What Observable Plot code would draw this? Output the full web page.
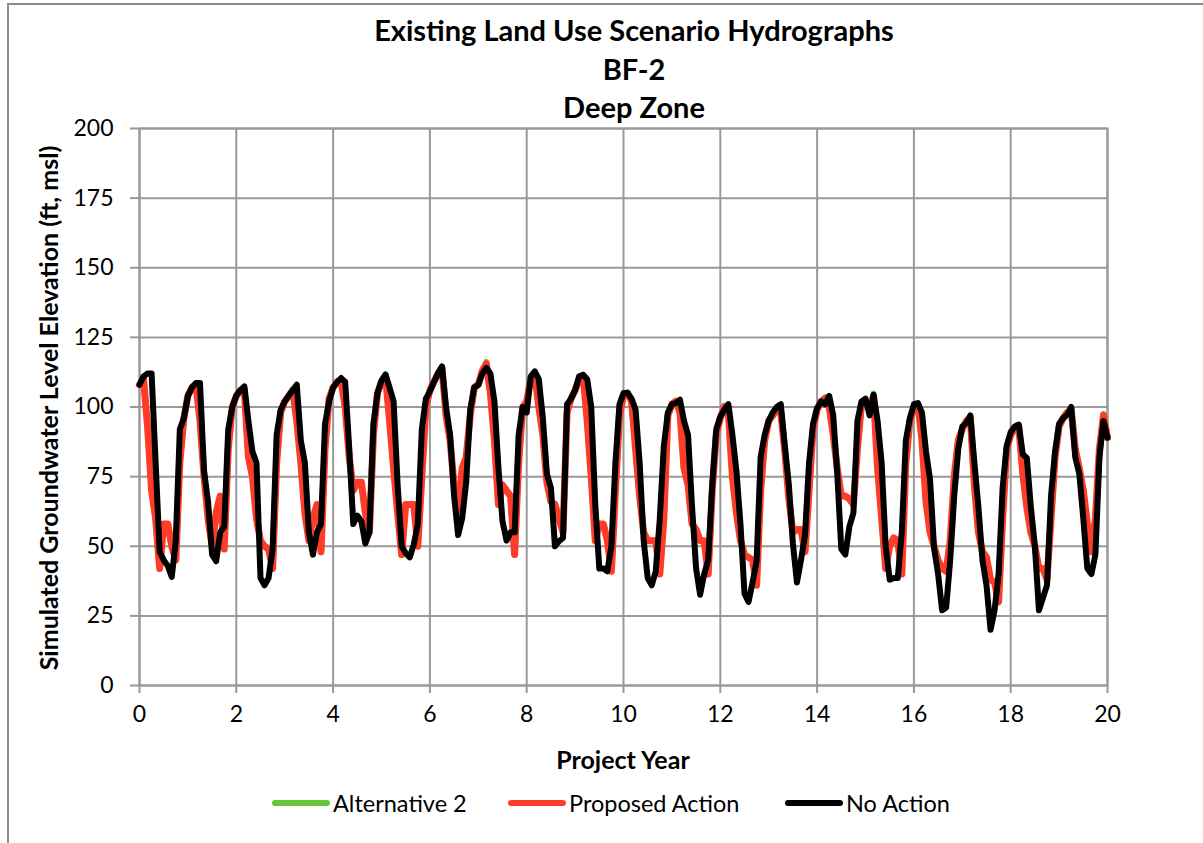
<!DOCTYPE html>
<html><head><meta charset="utf-8">
<script src="https://cdn.jsdelivr.net/npm/d3@7"></script>
<script src="https://cdn.jsdelivr.net/npm/@observablehq/plot@0.6"></script>
<style>
body{margin:0;background:#fff;font-family:Lato,"Open Sans",sans-serif;color:#000;}
#wrap{position:relative;width:1203px;height:843px;overflow:hidden;background:#fff;}
#frame{position:absolute;left:7px;top:3px;width:1300px;height:900px;border-left:2px solid #8c8c8c;border-top:2px solid #8c8c8c;}
#title{position:absolute;left:0;top:11px;width:1268px;text-align:center;font-weight:bold;font-size:29px;line-height:38.5px;}
#chart{position:absolute;left:0;top:118px;}
#xlabel{position:absolute;left:0;width:1246px;top:744px;text-align:center;font-weight:bold;font-size:25px;line-height:30px;}
#ylabel{position:absolute;left:48px;top:408px;transform:translate(-50%,-50%) rotate(-90deg);white-space:nowrap;font-weight:bold;font-size:25px;}
.leg{position:absolute;top:789px;display:flex;align-items:center;font-size:23.5px;height:28px;}
.sw{width:58px;height:6px;border-radius:3px;margin-right:3px;}
#chart svg text{font-family:Lato,"Open Sans",sans-serif;}
</style></head>
<body><div id="wrap">
<div id="frame"></div>
<div id="title">Existing Land Use Scenario Hydrographs<br>BF-2<br>Deep Zone</div>
<div id="chart"></div>
<div id="xlabel">Project Year</div>
<div id="ylabel">Simulated Groundwater Level Elevation (ft, msl)</div>
<div class="leg" style="left:272px"><div class="sw" style="background:#66c63a"></div>Alternative 2</div>
<div class="leg" style="left:508px"><div class="sw" style="background:#ff3c28"></div>Proposed Action</div>
<div class="leg" style="left:785px"><div class="sw" style="background:#000"></div>No Action</div>
</div>
<script>
// Monthly simulated values, project year 0 to 20
const noAction = [
108,111,112,112,80,48,45,43,39,52,92,96,
104,107,108.6,108.6,77,66,47,44.6,55,57,92,100,
104,106,107.4,95,84,80,38.6,36,38.6,49,90,99,
102,104,106,108,88,80,55,47,55,58,94,102,
107,109,110.4,109,85,58,61,59,51,55,94,105,
109.5,111.6,107,102,72,50,47.5,46,50.6,58,92,103,
105.6,109,112,114.6,100,90,68,54,60,73,99,107,
108,112,114,112,102,78,59,52,55,55,90,100,
98,111,112.8,110,96,76,71,50,51.8,53,101,103,
106,111,111.6,110,100,65,42,42,41,50,80,101,
105,105,103,99,80,52,38.6,36,41,60,86,98,
101,101.4,102.6,95,90,64,42,32.6,40,45,72,92,
96.5,99,101,90,77,58,33,30,37,44.6,82,90,
95,98,100,101,86,72,51,37,45,54,80,94,
99.6,102,101,104,97,76,49,47,57,62,95,102,
103,97,104.4,95,80,50,38,38.6,38.6,55,88,96,
101,101.4,98,84,74,49.4,40,27,28,45,68,85,
93,94.3,97,80,64,45,36,20,27,40,71,86,
91,93,93.7,83,81.7,64,50,27,31.5,36,68,84,
94,96,97.2,100,82,76,60,42,40,47,82,95,
89];
const proposedAction = [
108,110,93,70,60,42,58,58,50,45,80,96,
104,107,108,95,75,60,50,62,68,49,85,100,
104,106,106,82,75,60,52,50,49,42,80,98,
102,104,106,95,80,62,52,60,65,48,85,103,
107,109,109,100,82,70,73,73,62,55,90,105,
109,111,95,78,62,47,65,65,65,50,75,100,
106,109,112,114,97,88,72,62,78,82,97,107,
108,113,115.5,105,88,65,72,70,68,47,80,100,
102,110,112,100,90,73,66,65,60,55,98,103,
106,110,111,95,75,52,58,58,52,41,70,97,
104,105,102,85,68,55,52,52,52,40,60,97,
101,102,98,78,72,58,56,52,52,40,70,90,
96,100,98,75,62,52,47,46,45,36,70,88,
95,97,99,98,84,67,55,56,56,48,70,92,
99,102,103,100,90,78,68,68,67,65,85,101,
102,99,104,78,60,42,50,53,52,40,80,95,
100,101,88,66,55,50,45,42,41,52,75,88,
92,95,96,72,55,48,46,38,37,30,60,85,
90,92,93,76,64,55,50,42,42,38,60,82,
93,96,98,99,85,78,70,58,48,60,85,97,
89];
const alternative2 = [
108,110.5,93,70,60,42,58,58,50,45,80,96,
104,107,108.5,95,75,60,50,62,68,49,85,100,
104,106,106.5,82,75,60,52,50,49,42,80,98,
102,104,106.5,95,80,62,52,60,65,48,85,103,
107,109,109.5,100,82,70,73,73,62,55,90,105,
109,111.8,95,78,62,47,65,65,65,50,75,100,
106,109,112,114.5,97,88,72,62,78,82,97,107,
108,113,116.2,105,88,65,72,70,68,47,80,100,
102,110,112.5,100,90,73,66,65,60,55,98,103,
106,110,111.5,95,75,52,58,58,52,41,70,97,
104,105.3,102,85,68,55,52,52,52,40,60,97,
101,102.3,98,78,72,58,56,52,52,40,70,90,
96,100.5,98,75,62,52,47,46,45,36,70,88,
95,97,99.5,98,84,67,55,56,56,48,70,92,
99,102,103.5,100,90,78,68,68,67,65,85,101,
102,99,104.8,78,60,42,50,53,52,40,80,95,
100,101.3,88,66,55,50,45,42,41,52,75,88,
92,95,96.3,72,55,48,46,38,37,30,60,85,
90,92,93.3,76,64,55,50,42,42,38,60,82,
93,96,98,99.5,85,78,70,58,48,60,85,97.5,
89];
const series = [
  {name: "Alternative 2", values: alternative2, color: "#66c63a", width: 6},
  {name: "Proposed Action", values: proposedAction, color: "#ff3c28", width: 7},
  {name: "No Action", values: noAction, color: "#000000", width: 6}
];
const xTicks = [0,2,4,6,8,10,12,14,16,18,20];
const yTicks = [0,25,50,75,100,125,150,175,200];

const rows = series.flatMap(s => s.values.map((v, i) => ({series: s.name, year: i / 12, value: v})));

const chart = Plot.plot({
  width: 1203, height: 657,
  marginLeft: 139, marginRight: 96, marginTop: 10, marginBottom: 90,
  style: {fontSize: "23px", background: "transparent", overflow: "visible"},
  x: {domain: [0, 20], ticks: xTicks},
  y: {domain: [0, 200], ticks: yTicks},
  marks: [
    Plot.gridX(xTicks, {stroke: "#999", strokeOpacity: 1, strokeWidth: 2}),
    Plot.gridY(yTicks, {stroke: "#999", strokeOpacity: 1, strokeWidth: 2}),
    Plot.frame({stroke: "#999", strokeWidth: 2}),
    Plot.axisX(xTicks, {label: null, tickSize: 8, tickPadding: 12, stroke: "#999", strokeWidth: 2, fill: "#000"}),
    Plot.axisY(yTicks, {label: null, tickSize: 9, tickPadding: 17, stroke: "#999", strokeWidth: 2, fill: "#000"}),
    ...series.map(s => Plot.line(rows.filter(d => d.series === s.name), {
      x: "year", y: "value", stroke: s.color, strokeWidth: s.width, strokeLinejoin: "round", strokeLinecap: "round"
    }))
  ]
});
document.getElementById("chart").appendChild(chart);
</script>
</body></html>
